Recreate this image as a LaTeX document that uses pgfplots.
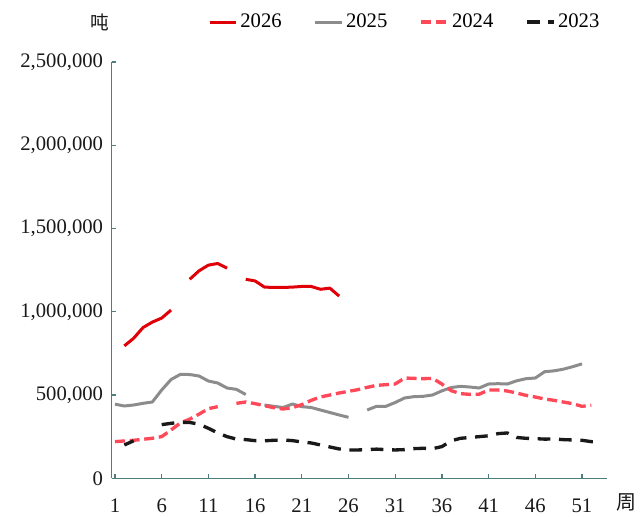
\documentclass[border=0pt]{standalone}
\usepackage{pgfplots}
\pgfplotsset{compat=1.18}
\usepackage{fontspec}
\setmainfont{Liberation Serif}
\newfontfamily\cjk{Noto Sans CJK SC}
\definecolor{axcol}{RGB}{80,125,125}
\definecolor{c26}{RGB}{224,0,8}
\definecolor{c25}{RGB}{140,140,140}
\definecolor{c24}{RGB}{255,72,88}
\definecolor{c23}{RGB}{25,25,25}
\begin{document}
\begin{tikzpicture}
\useasboundingbox (-83.8pt,-29pt) rectangle (396.2pt,358.7pt);
\begin{axis}[
  at={(0pt,0pt)}, anchor=south west,
  scale only axis, width=371.25pt, height=312.2pt,
  xmin=0.65, xmax=53.65, ymin=0, ymax=2500000,
  axis x line=bottom, axis y line=left,
  axis line style={-, draw=axcol, line width=1pt},
  tick style={draw=axcol, line width=1pt},
  tick align=inside, major tick length=3.5pt,
  xtick={1,6,11,16,21,26,31,36,41,46,51},
  ytick={0,500000,1000000,1500000,2000000,2500000},
  scaled y ticks=false,
  /pgf/number format/fixed,
  /pgf/number format/precision=0,
  /pgf/number format/assume math mode=true,
  /pgf/number format/1000 sep={,},
  every tick label/.append style={font=\fontsize{15.5pt}{18pt}\selectfont, text=black!90},
  xticklabel style={inner sep=1pt, yshift=-14pt},
  yticklabel style={xshift=-3pt},
  unbounded coords=jump,
  clip=false,
  legend columns=4,
  legend style={at={(0.5925,1.096)}, anchor=center, draw=none, fill=none,
    font=\fontsize{15.5pt}{18pt}\selectfont,
    nodes={inner xsep=2pt},
    /tikz/every even column/.append style={column sep=22pt}},
  legend image code/.code={\draw[#1] (0pt,0pt) -- (20pt,0pt);},
]
\addplot[c26, line width=2.25pt, line join=round] coordinates {
(2,795000)(3,841000)(4,905000)(5,938000)(6,962000)(7,1010000)(8,nan)
(9,1195000)(10,1246000)(11,1280000)(12,1290000)(13,1262000)(14,nan)
(15,1195000)(16,1185000)(17,1148000)(18,1146000)(19,1146000)(20,1148000)
(21,1152000)(22,1152000)(23,1135000)(24,1142000)(25,1094000)};
\addlegendentry{2026}
\addplot[c25, line width=2.25pt, line join=round] coordinates {
(1,445000)(2,434000)(3,440000)(4,450000)(5,458000)(6,530000)(7,593000)(8,624000)
(9,623000)(10,614000)(11,584000)(12,572000)(13,542000)(14,534000)(15,503000)(16,nan)
(17,440000)(18,432000)(19,425000)(20,446000)(21,430000)(22,425000)(23,410000)
(24,395000)(25,380000)(26,366000)(27,nan)
(28,410000)(29,432000)(30,432000)(31,455000)(32,482000)(33,490000)(34,492000)
(35,500000)(36,525000)(37,545000)(38,552000)(39,548000)(40,542000)(41,566000)
(42,568000)(43,566000)(44,585000)(45,598000)(46,602000)(47,640000)(48,645000)
(49,655000)(50,670000)(51,687000)};
\addlegendentry{2025}
\addplot[c24, line width=2.5pt, line join=round, dash pattern=on 7.5pt off 3.5pt] coordinates {
(1,220000)(2,224000)(3,228000)(4,234000)(5,240000)(6,250000)(7,290000)(8,332000)
(9,355000)(10,385000)(11,418000)(12,430000)(13,nan)(14,450000)(15,458000)
(16,448000)(17,436000)(18,424000)(19,416000)(20,424000)(21,442000)(22,468000)
(23,488000)(24,500000)(25,512000)(26,522000)(27,532000)(28,546000)(29,558000)
(30,562000)(31,566000)(32,602000)(33,600000)(34,598000)(35,600000)(36,566000)
(37,526000)(38,508000)(39,504000)(40,505000)(41,530000)(42,530000)(43,524000)
(44,512000)(45,498000)(46,488000)(47,476000)(48,468000)(49,458000)(50,448000)
(51,432000)(52,438000)};
\addlegendentry{2024}
\addplot[c23, line width=2.5pt, line join=round, dash pattern=on 9.5pt off 6.5pt] coordinates {
(2,200000)(3,225000)(4,nan)(5,nan)
(6,322000)(7,330000)(8,336000)(9,335000)(10,325000)(11,300000)(12,272000)
(13,250000)(14,235000)(15,232000)(16,226000)(17,225000)(18,228000)(19,230000)
(20,226000)(21,218000)(22,212000)(23,200000)(24,188000)(25,176000)(26,170000)
(27,170000)(28,172000)(29,175000)(30,172000)(31,170000)(32,172000)(33,178000)
(34,180000)(35,178000)(36,190000)(37,225000)(38,240000)(39,245000)(40,250000)
(41,255000)(42,268000)(43,272000)(44,245000)(45,240000)(46,238000)(47,235000)
(48,236000)(49,232000)(50,230000)(51,228000)(52,220000)(53,216000)};
\addlegendentry{2023}
\node[font=\cjk\fontsize{14pt}{16pt}\selectfont, text=black!90, inner sep=1pt] at (rel axis cs:0,1) [xshift=-8.8pt, yshift=30pt] {吨};
\node[font=\cjk\fontsize{15pt}{17pt}\selectfont, text=black!90, inner sep=1pt] at (rel axis cs:1,0) [xshift=14.5pt, yshift=-17.8pt] {周};
\end{axis}
\end{tikzpicture}
\end{document}
